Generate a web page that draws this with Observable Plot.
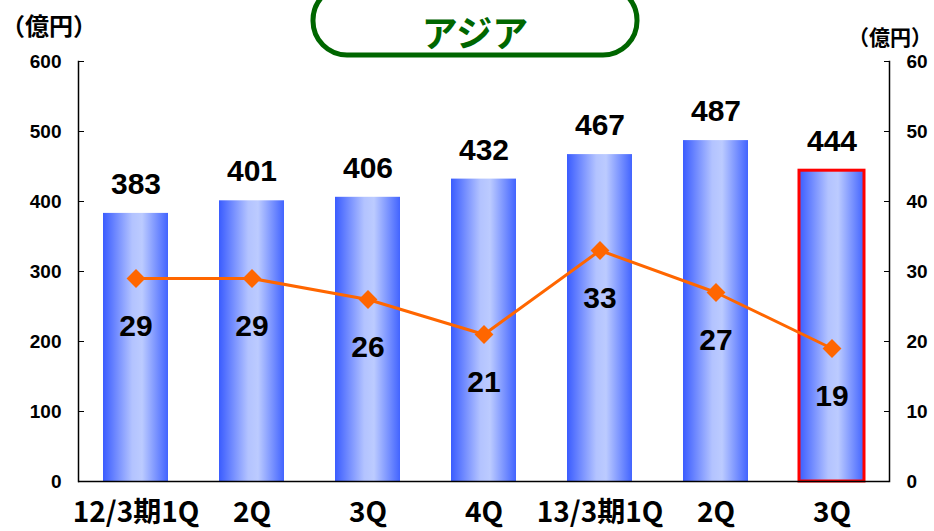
<!DOCTYPE html>
<html><head><meta charset="utf-8">
<script src="https://cdn.jsdelivr.net/npm/d3@7"></script>
<script src="https://cdn.jsdelivr.net/npm/@observablehq/plot@0.6"></script>
<style>body{margin:0;background:#fff;overflow:hidden;}</style>
</head><body><div id="chart"></div>
<script>
const periods = ["12/3期1Q","12/3期2Q","12/3期3Q","12/3期4Q","13/3期1Q","13/3期2Q","13/3期3Q"];
const tickLabels = ["12/3期1Q","2Q","3Q","4Q","13/3期1Q","2Q","3Q"];
const sales = [383,401,406,432,467,487,444];
const profit = [29,29,26,21,33,27,19];
const leftTicks = [0,100,200,300,400,500,600];
const rightTicks = [0,10,20,30,40,50,60];
const highlightPeriod = "13/3期3Q";
const title = "アジア";
const unitLabel = "（億円）";
const RATIO = 10;

const rows = periods.map((p,i)=>({period:p,label:tickLabels[i],sales:sales[i],profit:profit[i]}));
const labelOf = new Map(rows.map(d=>[d.period,d.label]));
const CJK = "'Noto Sans CJK JP', 'Noto Sans', sans-serif";

const plot = Plot.plot({
  width:934, height:531,
  marginLeft:78, marginRight:45, marginTop:61, marginBottom:50,
  style:{fontFamily:"'Liberation Sans', Arial, sans-serif", background:"#fff", color:"#000"},
  x:{domain:periods, paddingInner:0.44, paddingOuter:0.2},
  y:{domain:[0,600]},
  marks:[
    Plot.barY(rows,{x:"period", y:"sales", fill:"url(#barGrad)"}),
    Plot.barY(rows.filter(d=>d.period===highlightPeriod),{x:"period", y:"sales", fill:"none", stroke:"#ff0000", strokeWidth:3}),
    Plot.ruleY([0],{stroke:"#000", strokeWidth:1.5}),
    Plot.frame({anchor:"left", stroke:"#000", strokeWidth:1.5}),
    Plot.frame({anchor:"right", stroke:"#000", strokeWidth:1.5}),
    Plot.axisY(leftTicks,{anchor:"left", label:null, tickSize:6, dx:6, tickFormat:()=>"", strokeWidth:1}),
    Plot.axisY(leftTicks,{anchor:"left", label:null, tickSize:0, tickPadding:17, fontSize:19, fontWeight:"bold"}),
    Plot.axisY(rightTicks.map(v=>v*RATIO),{anchor:"right", label:null, tickSize:6, dx:-6, tickFormat:()=>"", strokeWidth:1}),
    Plot.axisY(rightTicks.map(v=>v*RATIO),{anchor:"right", label:null, tickSize:0, tickPadding:17, fontSize:19, fontWeight:"bold", tickFormat:d=>String(d/RATIO)}),
    Plot.axisX({label:null, tickSize:0, tickPadding:21, fontSize:28, fontWeight:"bold", fontFamily:CJK, tickFormat:d=>labelOf.get(d)}),
    Plot.text(rows,{x:"period", y:"sales", text:d=>String(d.sales), dy:-29, fontSize:30, fontWeight:"bold", lineAnchor:"middle"}),
    Plot.lineY(rows,{x:"period", y:d=>d.profit*RATIO, stroke:"#ff6600", strokeWidth:3}),
    Plot.dot(rows,{x:"period", y:d=>d.profit*RATIO, symbol:"diamond2", r:8.5, fill:"#ff6600", stroke:"none"}),
    Plot.text(rows,{x:"period", y:d=>d.profit*RATIO, text:d=>String(d.profit), dy:48, fontSize:30, fontWeight:"bold", lineAnchor:"middle"})
  ]
});

const svg = d3.select(plot);
const grad = svg.insert("defs",":first-child").append("linearGradient")
  .attr("id","barGrad").attr("x1","0%").attr("x2","100%").attr("y1","0%").attr("y2","0%");
[["0%","#3a5cff"],["45%","#b3c3ff"],["60%","#bccbff"],["100%","#4264ff"]].forEach(([o,c])=>
  grad.append("stop").attr("offset",o).attr("stop-color",c));

const deco = svg.append("g");
deco.append("rect").attr("x",313).attr("y",-14).attr("width",324).attr("height",69).attr("rx",34)
  .attr("fill","#fff").attr("stroke","#006600").attr("stroke-width",5);
deco.append("text").attr("x",475).attr("y",31).attr("text-anchor","middle").attr("dominant-baseline","central")
  .attr("font-family",CJK).attr("font-size",36).attr("font-weight","bold").attr("fill","#006600").text(title);
deco.append("text").attr("x",1).attr("y",24).attr("text-anchor","start").attr("dominant-baseline","central")
  .attr("font-family",CJK).attr("font-size",24).attr("font-weight","bold").attr("fill","#000").text(unitLabel);
deco.append("text").attr("x",848).attr("y",36).attr("text-anchor","start").attr("dominant-baseline","central")
  .attr("font-family",CJK).attr("font-size",21).attr("font-weight","bold").attr("fill","#000").text(unitLabel);

document.getElementById("chart").append(plot);
</script>
</body></html>
